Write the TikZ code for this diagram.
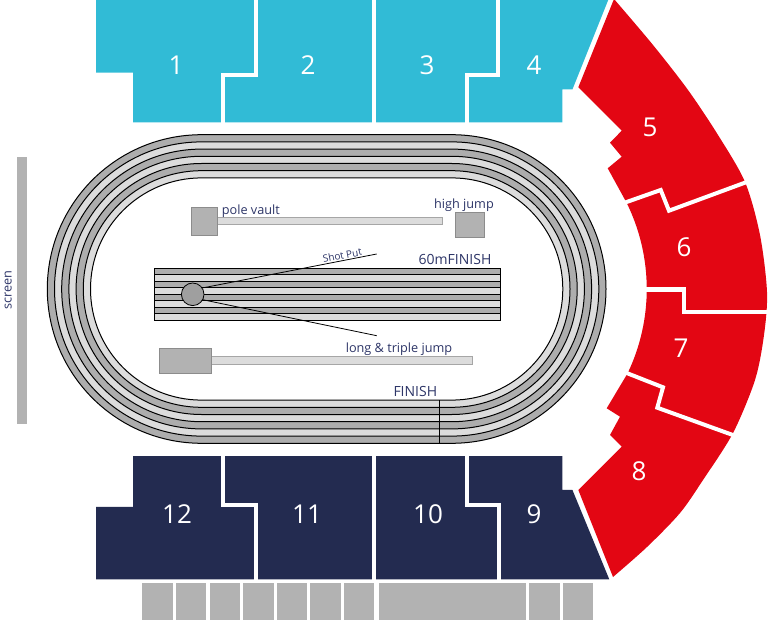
\documentclass[tikz,border=0pt]{standalone}
\usepackage{fontspec}
\setmainfont{Open Sans}
\usetikzlibrary{calc}

\definecolor{standblue}{HTML}{31BBD6}
\definecolor{standred}{HTML}{E30613}
\definecolor{standnavy}{HTML}{232B50}
\definecolor{labelnavy}{HTML}{2E3668}
\definecolor{lanedark}{HTML}{ADADAD}
\definecolor{lanelight}{HTML}{DCDCDC}
\definecolor{boxgray}{HTML}{B2B2B2}

\tikzset{
  standnum/.style={text=white, font=\fontsize{26}{26}\selectfont, inner sep=0pt},
  standgap/.style={draw=white, line width=4pt},
  fieldtext/.style={text=labelnavy, font=\fontsize{12.7}{13}\selectfont, inner sep=0pt},
  finishtext/.style={text=labelnavy, font=\fontsize{14}{14}\selectfont, inner sep=0pt},
  pitbox/.style={fill=boxgray, draw=gray!90, line width=0.6pt},
  runway/.style={fill=lanelight, draw=gray!70, line width=0.6pt},
}

\begin{document}
\begin{tikzpicture}[x=1pt,y=-1pt]
    \useasboundingbox (0,0) rectangle (768,620);

    % stands 1-4
    \fill[standblue] (96,-1) -- (608.6,-1) -- (572.4,89.5) -- (562.3,89.5) -- (562.3,122.3)
        -- (133.2,122.3) -- (133.2,72.6) -- (96,72.6) -- cycle;
    \draw[standgap] (256,-3) -- (256,75) -- (223,75) -- (223,125);
    \draw[standgap] (374,-3) -- (374,125);
    \draw[standgap] (498,-3) -- (498,75) -- (466.5,75) -- (466.5,125);

    % stands 9-12
    \fill[standnavy] (133.2,456) -- (562.3,456) -- (562.3,489.9) -- (572.4,489.9) -- (609.3,579.4)
        -- (96,579.4) -- (96,506.8) -- (133.2,506.8) -- cycle;
    \draw[standgap] (223,453) -- (223,504.6) -- (256,504.6) -- (256,582);
    \draw[standgap] (374,453) -- (374,582);
    \draw[standgap] (466.5,453) -- (466.5,504.6) -- (499,504.6) -- (499,582);

    % stands 5-8
    \fill[standred] plot[smooth] coordinates {(614,-1) (653,45) (688,90) (718,135) (745,182)
        (760,235) (767,292) (764,335) (755,380) (733,433) (703,480) (680,513)
        (647,547) (613,577)}
        -- (578.3,490) -- (621.7,446.7) -- (610,435) -- (620,416.7) -- (606.7,408.3)
        -- (627.6,373.3) arc[start angle=25.6, end angle=-26.4, radius=195]
        -- (607.7,168.3) -- (621.7,156.7) -- (610,142.7) -- (621.7,130.7) -- (578.3,87.3) -- cycle;
    \draw[standgap] (619,204.7) -- (660.7,190) -- (669,210.7) -- (753,179.7);
    \draw[standgap] (638,289.5) -- (684,289.5) -- (684,312) -- (772,312);
    \draw[standgap] (619,370) -- (663,387.3) -- (657.3,407.7) -- (740,437.6);

    \node[standnum] (s1) at (176,65.4) {1};
    \node[standnum] (s2) at (308,65.4) {2};
    \node[standnum] (s3) at (427,65.4) {3};
    \node[standnum] (s4) at (534,65.4) {4};
    \node[standnum] (s5) at (650,127) {5};
    \node[standnum] (s6) at (684,247) {6};
    \node[standnum] (s7) at (681,348) {7};
    \node[standnum] (s8) at (639,471) {8};
    \node[standnum] (s9) at (534,514) {9};
    \node[standnum] (s10) at (428,514) {10};
    \node[standnum] (s11) at (307,514) {11};
    \node[standnum] (s12) at (177,514) {12};

    % track, outer lane first
    \foreach \i/\col in {0/lanedark,1/lanelight,2/lanedark,3/lanelight,4/lanedark,5/lanelight,6/white}{
        \pgfmathsetmacro\r{154.3-7.2*\i}
        \draw[fill=\col, line width=1pt] (201.6,{289-\r}) -- (451.7,{289-\r})
            arc[start angle=-90, end angle=90, radius=\r] -- (201.6,{289+\r})
            arc[start angle=90, end angle=270, radius=\r] -- cycle;
    }
    \draw[line width=0.9pt] (439.3,400.1) -- (439.3,443.3);
    \node[finishtext, anchor=base] (finish) at (415.3,396.7) {FINISH};

    % 60m straight
    \foreach \k/\col in {0/lanedark,1/lanelight,2/lanedark,3/lanelight,4/lanedark,5/lanelight,6/lanedark,7/lanelight}
        \filldraw[fill=\col, draw=black, line width=0.6pt] (154,{268+6.5*\k}) rectangle (500,{274.5+6.5*\k});
    \draw[line width=0.8pt] (154,268) rectangle (500,320);
    \node[finishtext, anchor=base] (sixty) at (455,264.5) {60mFINISH};

    % jumps
    \draw[runway] (217.3,217.7) rectangle (442.7,224.3);
    \draw[pitbox] (191.7,207.3) rectangle (217.3,235.7);
    \node[fieldtext, anchor=base west] (pole) at (221.7,214.3) {pole vault};
    \draw[pitbox] (455.3,212.3) rectangle (484.7,237.3);
    \node[fieldtext, anchor=base] (high) at (464,209) {high jump};
    \draw[runway] (211,356.7) rectangle (472.7,364);
    \draw[pitbox] (159.3,348.3) rectangle (211,373.3);
    \node[fieldtext, anchor=base] (long) at (399,352.5) {long \& triple jump};

    % shot put
    \node[circle, draw=black, fill=gray!75, line width=0.8pt, minimum size=22.6pt, inner sep=0pt] (shotput) at (192.7,294.3) {};
    \coordinate (shotA) at (376.7,254);
    \coordinate (shotB) at (376.7,335.7);
    \draw[line width=0.8pt] (shotput.33) -- (shotA);
    \draw[line width=0.8pt] (shotput.-28) -- (shotB);
    \node[text=labelnavy, font=\fontsize{10}{10}\selectfont, inner sep=0pt, anchor=base, rotate=11] (shottext) at (343,259) {Shot Put};

    % screen
    \fill[boxgray] (17.3,157.3) rectangle (27.3,424);
    \node[fieldtext, rotate=90] (screen) at (8.3,290) {screen};

    % boxes below stands
    \foreach \j in {0,...,6}
        \fill[boxgray] ({142.4+33.6*\j},582.8) rectangle ({172.8+33.6*\j},621);
    \fill[boxgray] (378.9,582.8) rectangle (525.8,621);
    \fill[boxgray] (529.2,582.8) rectangle (559.6,621);
    \fill[boxgray] (563,582.8) rectangle (593.4,621);
\end{tikzpicture}
\end{document}
